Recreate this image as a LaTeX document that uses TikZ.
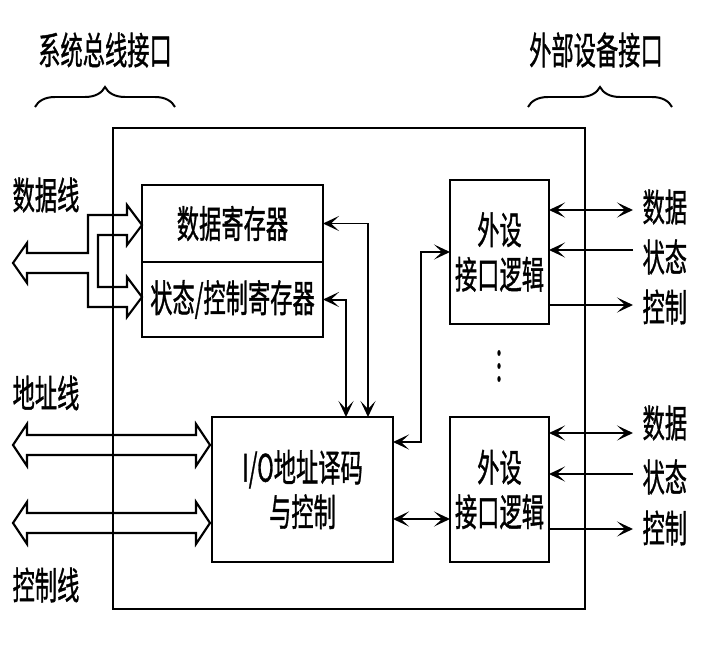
\documentclass[tikz,border=0pt]{standalone}
\usepackage{fontspec}
\newfontfamily\cjk[FakeBold=1.2]{Noto Sans CJK SC}
\usetikzlibrary{positioning,arrows.meta,decorations.pathreplacing}
\newcommand{\tall}[1]{\scalebox{1}[1.7]{#1}}
\tikzset{
  io-txt/.style={font=\cjk\fontsize{19}{38}\selectfont,align=center,inner sep=2pt},
  io-box/.style={io-txt,draw,line width=1.7pt,outer sep=0pt},
  io-sig/.style={line width=1.7pt,-{Stealth[length=4.8mm,width=4.5mm,inset=2.4mm]}},
  io-sig2/.style={line width=1.7pt,{Stealth[length=4.8mm,width=4.5mm,inset=2.4mm]}-{Stealth[length=4.8mm,width=4.5mm,inset=2.4mm]}},
  io-bus/.style={line width=1.8pt,line join=miter},
  io-brace/.style={decorate,decoration={brace,amplitude=6mm},line width=1.7pt},
}
\begin{document}
\begin{tikzpicture}[x=0.03cm,y=-0.03cm]
  \useasboundingbox (0,0) rectangle (713,646);

  % interface frame
  \node[io-box,minimum width=14.16cm,minimum height=14.43cm] (iface) at (349,368.5) {};

  % registers and decoder
  \node[io-box,minimum width=5.43cm,minimum height=2.31cm] (dreg) at (232.5,223.5) {\tall{数据寄存器}};
  \node[io-box,minimum width=5.43cm,minimum height=2.25cm,below=0pt of dreg] (sreg) {\tall{状态/控制寄存器}};
  \node[io-box,minimum width=5.43cm,minimum height=4.35cm] (dec) at (302.5,489.5) {\tall{I/O地址译码}\\\tall{与控制}};

  % device side logic
  \node[io-box,minimum width=2.97cm,minimum height=4.32cm] (pif1) at (499.5,252) {\tall{外设}\\\tall{接口逻辑}};
  \node[io-box,minimum width=2.97cm,minimum height=4.35cm] (pif2) at (499.5,489.5) {\tall{外设}\\\tall{接口逻辑}};
  \foreach \y in {353,366,379}
    \fill (499,\y) ellipse [x radius=0.05cm,y radius=0.09cm];

  % headings
  \node[io-txt] (tsys) at (105,50) {\tall{系统总线接口}};
  \node[io-txt] (tdev) at (596,50) {\tall{外部设备接口}};
  \coordinate (bsl) at (35,107);
  \coordinate (bsr) at (175,107);
  \coordinate (bdl) at (528,107);
  \coordinate (bdr) at (672,107);
  \draw[io-brace] (bsl) -- (bsr);
  \draw[io-brace] (bdl) -- (bdr);

  % system bus side
  \node[io-txt] (ldata) at (46,195) {\tall{数据线}};
  \node[io-txt] (laddr) at (46,393) {\tall{地址线}};
  \node[io-txt] (lctrl) at (46,585) {\tall{控制线}};
  \draw[io-bus] (13,263) -- (27,243) -- (27,253) -- (88,253) -- (88,215) -- (127,215) -- (127,205)
    -- (142,225) -- (127,245) -- (127,235) -- (98,235) -- (98,287) -- (127,287) -- (127,277)
    -- (142,297) -- (127,317) -- (127,307) -- (88,307) -- (88,273) -- (27,273) -- (27,283) -- cycle;
  \foreach \c in {445,523}
    \draw[io-bus] (13,\c) -- (27,\c-21) -- (27,\c-10) -- (196,\c-10) -- (196,\c-21) -- (210,\c)
      -- (196,\c+21) -- (196,\c+10) -- (27,\c+10) -- (27,\c+21) -- cycle;

  % internal signals
  \draw[io-sig2] (dreg.east) -| ([xshift=1.965cm]dec.north);
  \draw[io-sig2] (sreg.east) -| ([xshift=1.305cm]dec.north);
  \draw[io-sig2] ([yshift=1.425cm]dec.east) -- ++(28,0) |- (pif1.west);
  \draw[io-sig2] ([yshift=-0.885cm]dec.east) -- ([yshift=-0.885cm]pif2.west);

  % device side signals
  \coordinate (d1) at (633,210);
  \coordinate (s1) at (633,250);
  \coordinate (c1) at (633,305);
  \coordinate (d2) at (633,433);
  \coordinate (s2) at (633,474);
  \coordinate (c2) at (633,529);
  \draw[io-sig2] (pif1.east |- d1) -- (d1);
  \draw[io-sig] (s1) -- (pif1.east |- s1);
  \draw[io-sig] (pif1.east |- c1) -- (c1);
  \draw[io-sig2] (pif2.east |- d2) -- (d2);
  \draw[io-sig] (s2) -- (pif2.east |- s2);
  \draw[io-sig] (pif2.east |- c2) -- (c2);
  \node[io-txt,anchor=west] (ld1) at (640,207) {\tall{数据}};
  \node[io-txt,anchor=west] (ls1) at (640,257) {\tall{状态}};
  \node[io-txt,anchor=west] (lc1) at (640,307) {\tall{控制}};
  \node[io-txt,anchor=west] (ld2) at (640,423) {\tall{数据}};
  \node[io-txt,anchor=west] (ls2) at (640,477) {\tall{状态}};
  \node[io-txt,anchor=west] (lc2) at (640,528) {\tall{控制}};
\end{tikzpicture}
\end{document}
